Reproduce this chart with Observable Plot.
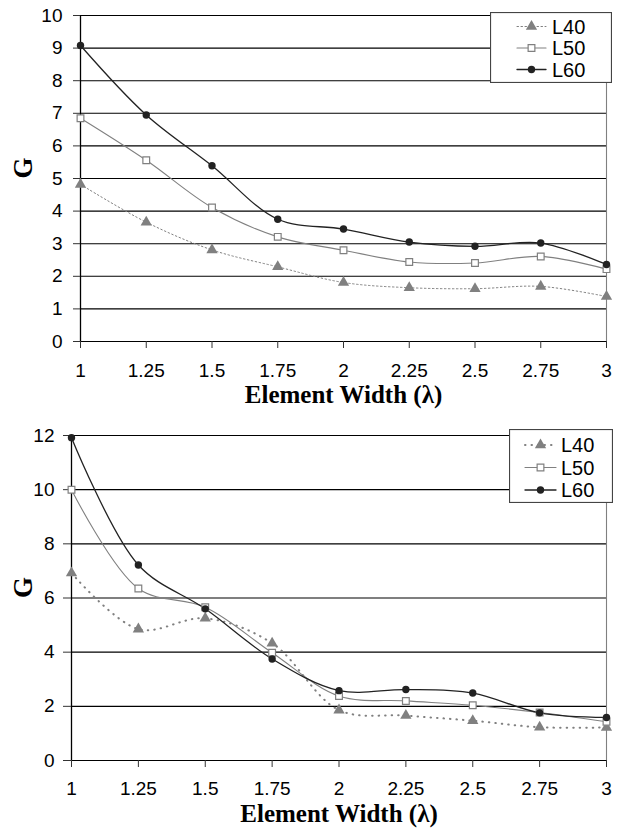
<!DOCTYPE html>
<html>
<head>
<meta charset="utf-8">
<script src="https://cdn.jsdelivr.net/npm/d3@7"></script>
<script src="https://cdn.jsdelivr.net/npm/@observablehq/plot@0.6"></script>
<style>
  html, body { margin: 0; padding: 0; background: #fff; }
  #wrap { position: relative; width: 624px; height: 835px; overflow: hidden; }
  .panel { position: absolute; left: 0; }
  .legend { position: absolute; }
</style>
</head>
<body>
<div id="wrap"></div>
<script>
// ---- data ----
const widths = [1, 1.25, 1.5, 1.75, 2, 2.25, 2.5, 2.75, 3];
const seriesNames = ["L40", "L50", "L60"];

const topL40 = [4.82, 3.66, 2.81, 2.29, 1.81, 1.65, 1.62, 1.69, 1.38];
const topL50 = [6.85, 5.56, 4.11, 3.21, 2.80, 2.44, 2.41, 2.61, 2.22];
const topL60 = [9.08, 6.95, 5.39, 3.75, 3.45, 3.05, 2.92, 3.02, 2.36];

const botL40 = [6.92, 4.85, 5.25, 4.33, 1.86, 1.66, 1.47, 1.23, 1.22];
const botL50 = [10.0, 6.35, 5.66, 3.98, 2.38, 2.20, 2.04, 1.77, 1.43];
const botL60 = [11.92, 7.22, 5.60, 3.75, 2.58, 2.62, 2.49, 1.76, 1.59];

const topYTicks = [0, 1, 2, 3, 4, 5, 6, 7, 8, 9, 10];
const botYTicks = [0, 2, 4, 6, 8, 10, 12];
const xTickLabels = ["1", "1.25", "1.5", "1.75", "2", "2.25", "2.5", "2.75", "3"];
const xTitle = "Element Width (λ)";
const yTitle = "G";

// ---- helpers ----
const rows = vals => widths.map((x, i) => ({x, y: vals[i]}));
const sans = "'Liberation Sans', Arial, sans-serif";
const serif = "'Liberation Serif', 'Times New Roman', serif";

function panel(o) {
  const l40 = rows(o.s40), l50 = rows(o.s50), l60 = rows(o.s60);
  return Plot.plot({
    width: 624,
    height: o.height,
    marginLeft: o.marginLeft,
    marginRight: 18,
    marginTop: o.marginTop,
    marginBottom: o.marginBottom,
    style: {fontFamily: sans, fontSize: "19px", color: "#000", background: "#fff", overflow: "visible"},
    x: {domain: [1, 3]},
    y: {domain: [0, o.yTicks[o.yTicks.length - 1]]},
    marks: [
      Plot.ruleY(o.yTicks, {stroke: "#000", strokeWidth: 1.1}),
      Plot.ruleX([3], {stroke: "#808080", strokeWidth: 1.1}),
      Plot.ruleX([1], {stroke: "#000", strokeWidth: 1.3}),
      Plot.axisY({ticks: o.yTicks, tickSize: o.tickSizeY, tickPadding: o.tickPadY, label: null, stroke: "#333", fontSize: 19}),
      Plot.axisX({ticks: widths, tickFormat: (d, i) => xTickLabels[i], tickSize: 7, tickPadding: o.tickPadX, label: null, stroke: "#333", fontSize: 19}),
      Plot.line(l40, {x: "x", y: "y", curve: "catmull-rom", stroke: "#808080", strokeWidth: o.w40, strokeDasharray: o.dash40, strokeLinecap: "round"}),
      Plot.line(l50, {x: "x", y: "y", curve: "catmull-rom", stroke: "#808080", strokeWidth: 1.1}),
      Plot.line(l60, {x: "x", y: "y", curve: "catmull-rom", stroke: "#222", strokeWidth: 1.3}),
      Plot.dot(l40, {x: "x", y: "y", symbol: "triangle", fill: "#808080", r: 4.2}),
      Plot.dot(l50, {x: "x", y: "y", symbol: "square", fill: "#fff", stroke: "#808080", strokeWidth: 1.2, r: 3.8}),
      Plot.dot(l60, {x: "x", y: "y", symbol: "circle", fill: "#222", r: 3.7}),
      Plot.text([xTitle], {text: d => d, frameAnchor: "bottom", dy: o.titleDy, fontFamily: serif, fontWeight: "bold", fontSize: 25, fill: "#000"}),
      Plot.text([yTitle], {text: d => d, frameAnchor: "left", dx: o.gDx, rotate: -90, fontFamily: serif, fontWeight: "bold", fontSize: 27, fill: "#000"})
    ]
  });
}

function legend(o) {
  const svg = d3.create("svg").attr("width", o.w).attr("height", o.h)
    .attr("class", "legend")
    .style("left", o.left + "px").style("top", o.top + "px");
  svg.append("rect").attr("x", 0.5).attr("y", 0.5).attr("width", o.w - 1).attr("height", o.h - 1)
    .attr("fill", "#fff").attr("stroke", "#444").attr("stroke-width", 1.2);
  const styles = [
    {stroke: "#808080", dash: o.dash40, width: o.w40, sym: d3.symbolTriangle, size: 4.2 * 4.2 * Math.PI, fill: "#808080", mstroke: "none"},
    {stroke: "#808080", dash: null, width: 1.1, sym: d3.symbolSquare, size: 3.8 * 3.8 * Math.PI, fill: "#fff", mstroke: "#808080"},
    {stroke: "#222", dash: null, width: 1.3, sym: d3.symbolCircle, size: 3.7 * 3.7 * Math.PI, fill: "#222", mstroke: "none"}
  ];
  seriesNames.forEach((name, i) => {
    const s = styles[i], y = o.rowY[i];
    svg.append("line").attr("x1", o.lx1).attr("x2", o.lx2).attr("y1", y).attr("y2", y)
      .attr("stroke", s.stroke).attr("stroke-width", s.width).attr("stroke-dasharray", s.dash).attr("stroke-linecap", "round");
    svg.append("path").attr("d", d3.symbol(s.sym, s.size)()).attr("transform", `translate(${(o.lx1 + o.lx2) / 2},${y})`)
      .attr("fill", s.fill).attr("stroke", s.mstroke).attr("stroke-width", 1.2);
    svg.append("text").attr("x", o.tx).attr("y", y).attr("dy", "0.36em")
      .attr("font-family", sans).attr("font-size", 20).attr("fill", "#000").text(name);
  });
  return svg.node();
}

const wrap = document.getElementById("wrap");

const topPanel = panel({
  s40: topL40, s50: topL50, s60: topL60, yTicks: topYTicks,
  height: 417, marginLeft: 80, marginTop: 15, marginBottom: 76,
  tickSizeY: 7, tickPadY: 11, tickPadX: 15, titleDy: 61, gDx: -57,
  w40: 1, dash40: "1.5,2.5"
});
topPanel.classList.add("panel"); topPanel.style.top = "0px";
wrap.appendChild(topPanel);

const botPanel = panel({
  s40: botL40, s50: botL50, s60: botL60, yTicks: botYTicks,
  height: 418, marginLeft: 71, marginTop: 18, marginBottom: 75,
  tickSizeY: 8, tickPadY: 9, tickPadX: 14, titleDy: 61, gDx: -48,
  w40: 2, dash40: "0.5,6"
});
botPanel.classList.add("panel"); botPanel.style.top = "417px";
wrap.appendChild(botPanel);

wrap.appendChild(legend({left: 490, top: 12, w: 122, h: 71, rowY: [14.5, 36, 57.5], lx1: 27, lx2: 56, tx: 62, dash40: "1.5,2.5", w40: 1}));
wrap.appendChild(legend({left: 509, top: 429, w: 104, h: 74, rowY: [16, 38.5, 61], lx1: 16, lx2: 47, tx: 52, dash40: "0.5,6", w40: 2}));
</script>
</body>
</html>
